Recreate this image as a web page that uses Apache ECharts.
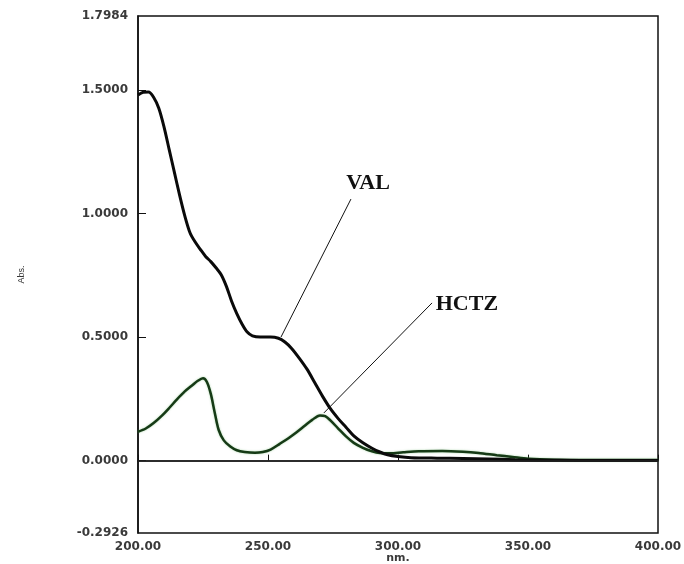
<!DOCTYPE html>
<html>
<head>
<meta charset="utf-8">
<script src="https://cdn.jsdelivr.net/npm/echarts@6/dist/echarts.min.js"></script>
<style>
  html, body { margin: 0; padding: 0; background: #fff; }
  #chart { width: 684px; height: 564px; }
</style>
</head>
<body>
<div id="chart"></div>
<script>
// wavelength (nm) / absorbance
const valNm = [200, 202, 204, 206, 208, 210, 212, 214, 216, 218, 220, 222, 224, 226, 228, 230, 232, 234, 236, 238, 240, 242, 244, 247, 251, 254, 256.5, 259, 262, 265, 268, 271, 274, 277, 280, 283, 286.5, 290, 293, 296, 300, 305, 315, 325, 335, 345, 355, 370, 385, 400];
const valAbs = [1.479, 1.49, 1.491, 1.47, 1.425, 1.35, 1.258, 1.166, 1.074, 0.99, 0.922, 0.884, 0.854, 0.826, 0.805, 0.78, 0.752, 0.705, 0.645, 0.595, 0.553, 0.52, 0.505, 0.500, 0.500, 0.495, 0.48, 0.455, 0.415, 0.37, 0.315, 0.26, 0.21, 0.17, 0.135, 0.10, 0.072, 0.05, 0.035, 0.024, 0.017, 0.012, 0.010, 0.009, 0.007, 0.004, 0.002, 0.001, 0.001, 0.001];

const hctzNm = [200, 203, 206, 209, 212, 215, 218, 221, 223, 225, 226.5, 228, 229.5, 231, 233, 235.5, 238, 241, 245, 248, 251, 254.5, 258, 261, 264, 267, 270, 272, 274, 277, 280, 283, 286.5, 290, 293, 297, 302, 308, 317, 325, 331, 338, 344, 350, 360, 375, 400];
const hctzAbs = [0.117, 0.13, 0.152, 0.18, 0.213, 0.248, 0.28, 0.306, 0.323, 0.333, 0.318, 0.27, 0.195, 0.125, 0.082, 0.057, 0.042, 0.035, 0.032, 0.035, 0.045, 0.068, 0.092, 0.115, 0.14, 0.165, 0.183, 0.18, 0.163, 0.13, 0.098, 0.072, 0.052, 0.038, 0.031, 0.030, 0.034, 0.038, 0.039, 0.036, 0.031, 0.022, 0.015, 0.008, 0.004, 0.003, 0.003];

const yMin = -0.2926;
const yMax = 1.7984;
const yTickValues = [0, 0.5, 1.0, 1.5];
const yLabelValues = [yMin, 0, 0.5, 1.0, 1.5, yMax];

// leader lines and labels: [nm, abs]
const valLeader = [[255, 0.50], [281.9, 1.058]];
const hctzLeader = [[271.5, 0.193], [313.1, 0.638]];
const valLabelAt = [288.5, 1.123];
const hctzLabelAt = [326.5, 0.634];

const pairs = (xs, ys) => xs.map((x, i) => [x, ys[i]]);

const tickFont = {
  fontFamily: 'DejaVu Sans',
  fontSize: 12,
  fontWeight: 'bold',
  color: '#3a3a3a'
};
const annotFont = {
  fontFamily: 'Liberation Serif',
  fontSize: 22,
  fontWeight: 'bold',
  color: '#111'
};

const myChart = echarts.init(document.getElementById('chart'));
myChart.setOption({
  animation: false,
  grid: {
    left: 138, right: 26, top: 16, bottom: 31,
    outerBoundsMode: 'none',
    show: true, borderColor: '#111', borderWidth: 1.5
  },
  xAxis: {
    type: 'value',
    min: 200, max: 400, interval: 50,
    name: 'nm.',
    nameLocation: 'middle',
    nameGap: 20,
    nameMoveOverlap: false,
    nameTextStyle: { fontFamily: 'DejaVu Sans', fontSize: 11, fontWeight: 'bold', color: '#3a3a3a' },
    axisLine: { lineStyle: { color: '#111', width: 1.5 } },
    axisTick: { inside: true, length: 6, lineStyle: { color: '#111' } },
    axisLabel: Object.assign({ margin: 8, formatter: v => v.toFixed(2) }, tickFont),
    splitLine: { show: false }
  },
  yAxis: {
    type: 'value',
    min: yMin, max: yMax,
    name: 'Abs.',
    nameLocation: 'middle',
    nameGap: 112,
    nameRotate: 90,
    nameMoveOverlap: false,
    nameTextStyle: { fontFamily: 'Liberation Sans', fontSize: 9, color: '#333' },
    axisLine: { lineStyle: { color: '#111', width: 1.5 } },
    axisTick: { inside: true, length: 8, customValues: yTickValues, lineStyle: { color: '#111' } },
    axisLabel: Object.assign({ margin: 10, customValues: yLabelValues, formatter: v => v.toFixed(4) }, tickFont),
    splitLine: { show: false }
  },
  series: [
    {
      name: 'HCTZ',
      type: 'line',
      data: pairs(hctzNm, hctzAbs),
      smooth: 0.3,
      symbol: 'none',
      lineStyle: { color: '#163a16', width: 2.5, shadowColor: 'rgba(80,170,80,0.5)', shadowBlur: 2 },
      markLine: {
        silent: true, symbol: 'none',
        label: { show: false },
        lineStyle: { color: '#111', width: 1, type: 'solid' },
        data: [
          [{ coord: hctzLeader[0] }, { coord: hctzLeader[1] }],
          [{ coord: valLeader[0] }, { coord: valLeader[1] }]
        ]
      },
      markPoint: {
        silent: true,
        symbol: 'circle', symbolSize: 1,
        itemStyle: { color: 'rgba(0,0,0,0)' },
        label: Object.assign({ show: true, position: 'inside' }, annotFont),
        data: [
          { coord: valLabelAt, label: { formatter: 'VAL' } },
          { coord: hctzLabelAt, label: { formatter: 'HCTZ' } }
        ]
      }
    },
    {
      name: 'VAL',
      type: 'line',
      data: pairs(valNm, valAbs),
      smooth: 0.3,
      symbol: 'none',
      lineStyle: { color: '#0a0a0a', width: 3 },
      markLine: {
        silent: true, symbol: 'none',
        label: { show: false },
        lineStyle: { color: '#222', width: 1.5, type: 'solid' },
        data: [{ yAxis: 0 }]
      }
    }
  ]
});
</script>
</body>
</html>
